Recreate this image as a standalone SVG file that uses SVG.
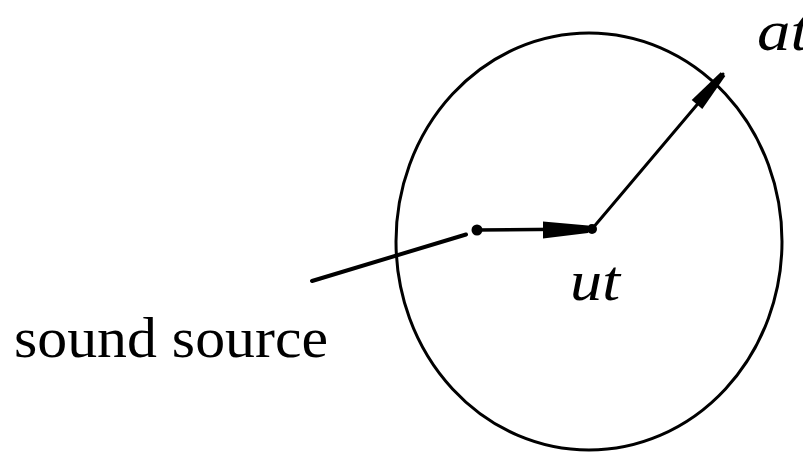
<svg xmlns="http://www.w3.org/2000/svg" width="803" height="453" viewBox="0 0 803 453">
<style>
.ln{stroke:#000;fill:none;stroke-linecap:round}
.lbl{font-family:"Liberation Serif","DejaVu Serif",serif;fill:#000}
.it{font-style:italic}
</style>
<rect width="803" height="453" fill="#fff"/>
<g id="wavefront"><ellipse cx="589" cy="241.5" rx="193" ry="208.5" class="ln" stroke-width="3"/></g>
<g id="connectors">
<line x1="312" y1="281" x2="466" y2="234.5" class="ln" stroke-width="4"/>
<line x1="477" y1="230" x2="592" y2="229" class="ln" stroke-width="3.5"/>
<polygon points="543,221.5 588,225.5 588,233 543,238.5" fill="#000"/>
<line x1="592" y1="229" x2="723" y2="74" class="ln" stroke-width="3"/>
<polygon points="691.7,100.1 702.3,109.1 725.3,76 720.7,72.2" fill="#000"/>
</g>
<g id="source-dot"><circle cx="477" cy="230" r="5.5" fill="#000"/></g>
<g id="ut-dot"><circle cx="592" cy="229" r="5" fill="#000"/></g>
<g id="label-sound-source"><text x="14" y="357" font-size="58" textLength="314" lengthAdjust="spacingAndGlyphs" class="lbl">sound source</text></g>
<g id="label-ut"><text x="570" y="300" font-size="57" textLength="50" lengthAdjust="spacingAndGlyphs" class="lbl it">ut</text></g>
<g id="label-at"><text x="757" y="50" font-size="57" textLength="52" lengthAdjust="spacingAndGlyphs" class="lbl it">at</text></g>
</svg>
